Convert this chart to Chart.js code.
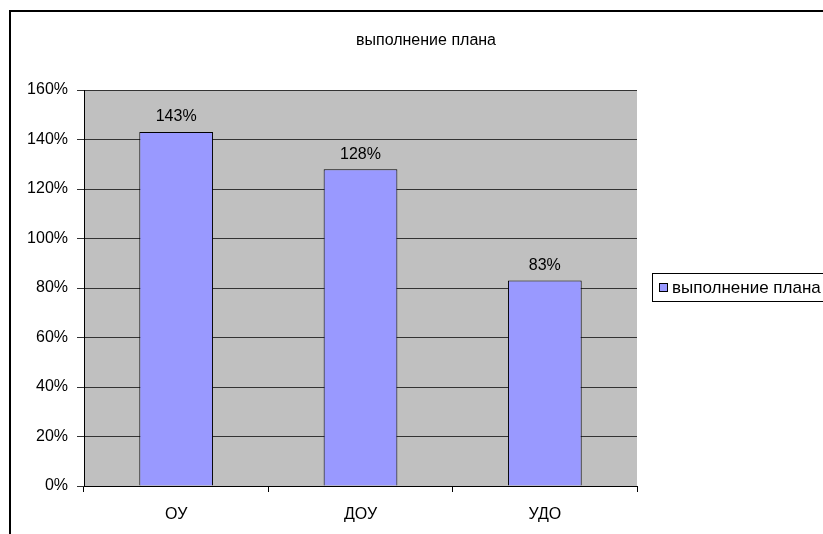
<!DOCTYPE html>
<html>
<head>
<meta charset="utf-8">
<script src="https://cdn.jsdelivr.net/npm/chart.js@4"></script>
<style>
  html, body { margin: 0; padding: 0; background: #fff; overflow: hidden; }
  #wrap { position: absolute; left: 0; top: 0; width: 860px; height: 534px; }
</style>
</head>
<body>
<div id="wrap"><canvas id="chart" width="860" height="534"></canvas></div>
<script>
const CATEGORIES = ['ОУ', 'ДОУ', 'УДО'];
const VALUES = [1.43, 1.28, 0.83];
const SERIES_NAME = 'выполнение плана';
const TITLE = 'выполнение плана';

const FONT = "'Liberation Sans', Arial, sans-serif";
const BAR_COLOR = '#9999FF';

// plot background, outer frame, title, value labels and legend box
const excelLook = {
  id: 'excelLook',
  beforeDraw(chart) {
    const { ctx, chartArea: a } = chart;
    ctx.save();
    ctx.fillStyle = '#C0C0C0';
    ctx.fillRect(a.left, a.top, a.right - a.left, a.bottom - a.top);
    ctx.restore();
  },
  afterDraw(chart) {
    const ctx = chart.ctx;
    ctx.save();
    // outer frame
    ctx.strokeStyle = '#000';
    ctx.lineWidth = 2;
    ctx.strokeRect(10, 11, 900, 600);

    ctx.font = '16px ' + FONT;
    ctx.fillStyle = '#000';
    ctx.textAlign = 'center';
    ctx.textBaseline = 'middle';

    // title, centred over the whole chart object
    ctx.fillText(TITLE, 426, 41);

    // value labels
    const meta = chart.getDatasetMeta(0);
    meta.data.forEach((bar, i) => {
      ctx.fillText(Math.round(VALUES[i] * 100) + '%', bar.x, bar.y - 15);
    });

    // legend
    ctx.lineWidth = 1;
    ctx.strokeStyle = '#000';
    ctx.strokeRect(652.5, 273.5, 220, 28);
    ctx.fillStyle = BAR_COLOR;
    ctx.fillRect(659.5, 283.5, 8, 8);
    ctx.strokeRect(659.5, 283.5, 8, 8);
    ctx.fillStyle = '#000';
    ctx.textAlign = 'left';
    ctx.font = '17px ' + FONT;
    ctx.fillText(SERIES_NAME, 672, 288);
    ctx.restore();
  }
};

new Chart(document.getElementById('chart'), {
  type: 'bar',
  data: {
    labels: CATEGORIES,
    datasets: [{
      label: SERIES_NAME,
      data: VALUES,
      backgroundColor: BAR_COLOR,
      borderColor: '#000',
      borderWidth: 1,
      categoryPercentage: 1,
      barPercentage: 0.4
    }]
  },
  options: {
    responsive: false,
    animation: false,
    layout: {
      padding: { left: 0, right: 223, top: 90, bottom: 0 }
    },
    plugins: {
      legend: { display: false },
      tooltip: { enabled: false },
      title: { display: false }
    },
    scales: {
      x: {
        grid: {
          offset: true,
          drawOnChartArea: false,
          drawTicks: true,
          tickLength: 6,
          color: '#000'
        },
        border: { color: '#000', width: 1 },
        ticks: {
          color: '#000',
          padding: 13,
          font: { family: FONT, size: 16 }
        },
        afterFit(scale) { scale.height = 48; }
      },
      y: {
        min: 0,
        max: 1.6,
        grid: {
          color: '#333',
          tickLength: 7
        },
        border: { color: '#000', width: 1 },
        ticks: {
          stepSize: 0.2,
          color: '#000',
          padding: 9,
          font: { family: FONT, size: 16 },
          callback: v => Math.round(v * 100) + '%'
        },
        afterFit(scale) { scale.width = 84; }
      }
    }
  },
  plugins: [excelLook]
});
</script>
</body>
</html>
